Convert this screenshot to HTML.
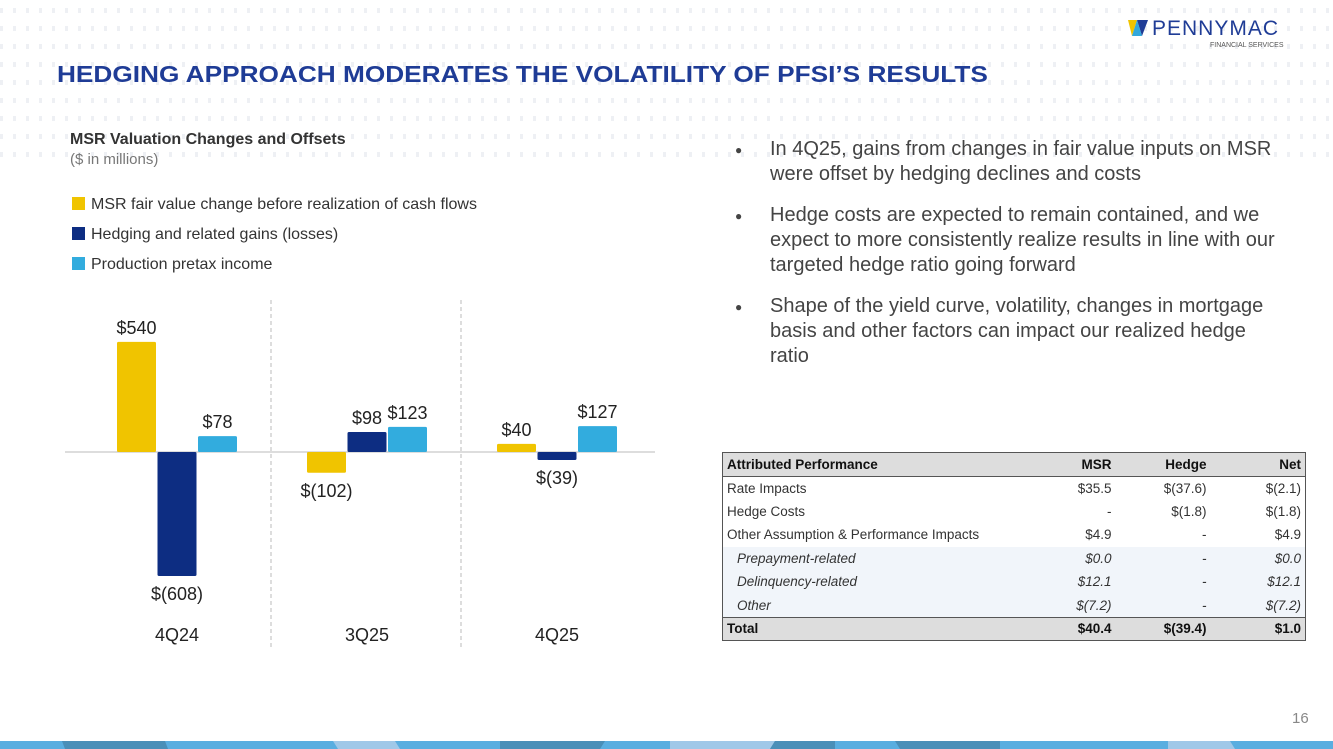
<!DOCTYPE html>
<html><head><meta charset="utf-8">
<style>
*{margin:0;padding:0;box-sizing:border-box}
body{width:1333px;height:749px;position:relative;overflow:hidden;background:#fff;font-family:"Liberation Sans",sans-serif;color:#333}
.dots{position:absolute;left:0;top:0;width:1333px;height:160px;
background-image:repeating-linear-gradient(90deg,#eef0f4 0 3px,transparent 3px 13px);
-webkit-mask:repeating-linear-gradient(180deg,#000 0 5px,transparent 5px 18px);mask:repeating-linear-gradient(180deg,#000 0 5px,transparent 5px 18px);
top:8px}
.abs{position:absolute}
h1{position:absolute;left:57px;top:61px;font-size:23px;font-weight:bold;color:#1f3c96;white-space:nowrap;transform:scaleX(1.14);transform-origin:left top}
.legend div{position:absolute;left:72px;font-size:16px;color:#333;white-space:nowrap}
.legend span{display:inline-block;width:13px;height:13px;margin-right:6px;vertical-align:-1px}
ul{position:absolute;left:735px;top:137px;width:555px;list-style:none;font-size:20px;color:#444;line-height:25px}
ul li{position:relative;padding-left:35px;margin-bottom:16px}
ul li:before{content:"●";position:absolute;left:0;top:1px;font-size:12px}
table{position:absolute;left:722px;top:452px;width:584px;border-collapse:collapse;font-size:13.5px;border:1px solid #555}
td{height:23.5px;padding:0 4px;text-align:right;color:#333}
td:first-child{text-align:left}
tr.h td{background:#ddd;font-weight:bold;color:#111;border-bottom:1px solid #555}
tr.i td{background:#f1f5fa;font-style:italic}
tr.i td:first-child{padding-left:14px}
tr.t td{background:#ddd;font-weight:bold;color:#111;border-top:1px solid #555}
</style></head><body>
<div class="dots"></div>
<div class="abs" style="left:1128px;top:20px">
<svg width="20" height="18"><polygon points="0,0 9,0 4,16" fill="#f0c400"/><polygon points="9,0 20,0 14,16" fill="#1f3c96"/><polygon points="9,0 14,16 4,16" fill="#32a8dc"/></svg>
<span style="position:absolute;left:24px;top:-3px;font-size:21px;color:#1f3c96;letter-spacing:1px">PENNYMAC</span>
<span style="position:absolute;left:82px;top:22px;font-size:7px;color:#555;white-space:nowrap">FINANCIAL SERVICES</span>
</div>
<h1>HEDGING APPROACH MODERATES THE VOLATILITY OF PFSI’S RESULTS</h1>
<div class="abs" style="left:70px;top:131px;font-size:16px;font-weight:bold;color:#333">MSR Valuation Changes and Offsets</div>
<div class="abs" style="left:70px;top:151px;font-size:15px;color:#777">($ in millions)</div>
<div class="legend">
<div style="top:196px"><span style="background:#f0c400"></span>MSR fair value change before realization of cash flows</div>
<div style="top:226px"><span style="background:#0d2d82"></span>Hedging and related gains (losses)</div>
<div style="top:256px"><span style="background:#32acde"></span>Production pretax income</div>
</div>
<svg id="chart" class="abs" style="left:0;top:0" width="700" height="660"></svg>
<ul>
<li>In 4Q25, gains from changes in fair value inputs on MSR were offset by hedging declines and costs</li>
<li>Hedge costs are expected to remain contained, and we expect to more consistently realize results in line with our targeted hedge ratio going forward</li>
<li>Shape of the yield curve, volatility, changes in mortgage basis and other factors can impact our realized hedge ratio</li>
</ul>
<table>
<tr class="h"><td>Attributed Performance</td><td>MSR</td><td style="width:95px">Hedge</td><td style="width:95px">Net</td></tr>
<tr><td>Rate Impacts</td><td>$35.5</td><td>$(37.6)</td><td>$(2.1)</td></tr>
<tr><td>Hedge Costs</td><td>-</td><td>$(1.8)</td><td>$(1.8)</td></tr>
<tr><td>Other Assumption &amp; Performance Impacts</td><td>$4.9</td><td>-</td><td>$4.9</td></tr>
<tr class="i"><td>Prepayment-related</td><td>$0.0</td><td>-</td><td>$0.0</td></tr>
<tr class="i"><td>Delinquency-related</td><td>$12.1</td><td>-</td><td>$12.1</td></tr>
<tr class="i"><td>Other</td><td>$(7.2)</td><td>-</td><td>$(7.2)</td></tr>
<tr class="t"><td>Total</td><td>$40.4</td><td>$(39.4)</td><td>$1.0</td></tr>
</table>
<div class="abs" style="left:1292px;top:710px;font-size:15px;color:#888">16</div>
<svg class="abs" style="left:0;top:741px" width="1333" height="8">
<rect width="1333" height="8" fill="#5aaee0"/>
<polygon points="62,0 165,0 168,8 65,8" fill="#4a8fb8"/>
<polygon points="333,0 395,0 400,8 338,8" fill="#a0c8e8"/>
<polygon points="500,0 605,0 600,8 500,8" fill="#4a8fb8"/>
<polygon points="670,0 775,0 770,8 670,8" fill="#a0c8e8"/>
<polygon points="775,0 835,0 835,8 770,8" fill="#4a8fb8"/>
<polygon points="895,0 1000,0 1000,8 900,8" fill="#4a8fb8"/>
<polygon points="1168,0 1230,0 1235,8 1168,8" fill="#a0c8e8"/>
</svg>
<script>
const categories=["4Q24","3Q25","4Q25"];
const msrValues=[540,-102,40];
const hedgeValues=[-608,98,-39];
const prodValues=[78,123,127];
const valueLabels=[["$540","$(608)","$78"],["$(102)","$98","$123"],["$40","$(39)","$127"]];
const svg=document.getElementById('chart');
const NS="http://www.w3.org/2000/svg";
const baseY=452, scale=0.204, groupX0=117, groupW=190, barW=39, gap=1;
const colors=["#f0c400","#0d2d82","#32acde"];
function y(v){return baseY-v*scale;}
function mk(t,a){const e=document.createElementNS(NS,t);for(const k in a)e.setAttribute(k,a[k]);svg.appendChild(e);return e;}
const ax=mk('line',{x1:65,x2:655,y1:baseY,y2:baseY,stroke:'#bbb','stroke-width':1});


[0,1].forEach(i=>{const l=mk('line',{x1:groupX0+groupW*(i+1)-36,x2:groupX0+groupW*(i+1)-36,y1:300,y2:647,stroke:'#bbb','stroke-dasharray':'4,3'});

});
const series=[msrValues,hedgeValues,prodValues];
const snames=['msr','hedge','production'];
categories.forEach((c,g)=>{
 series.forEach((s,k)=>{
  const v=s[g];const x=groupX0+g*groupW+k*(barW+gap+0.5);
  const r=mk('rect',{x:x,y:Math.min(y(v),baseY),width:barW,height:Math.abs(v*scale),fill:colors[k],rx:1.5});
  
  
  const ty=v>=0?y(v)-8:y(v)+24;
  const t=mk('text',{x:x+barW/2,y:ty,'text-anchor':'middle','font-size':18,fill:'#222','font-family':'Liberation Sans, sans-serif'});
  t.textContent=valueLabels[g][k];
  
  
 });
 const t=mk('text',{x:groupX0+g*groupW+60,y:641,'text-anchor':'middle','font-size':18,fill:'#222','font-family':'Liberation Sans, sans-serif'});
 t.textContent=c;
 
 
});
</script>
</body></html>
